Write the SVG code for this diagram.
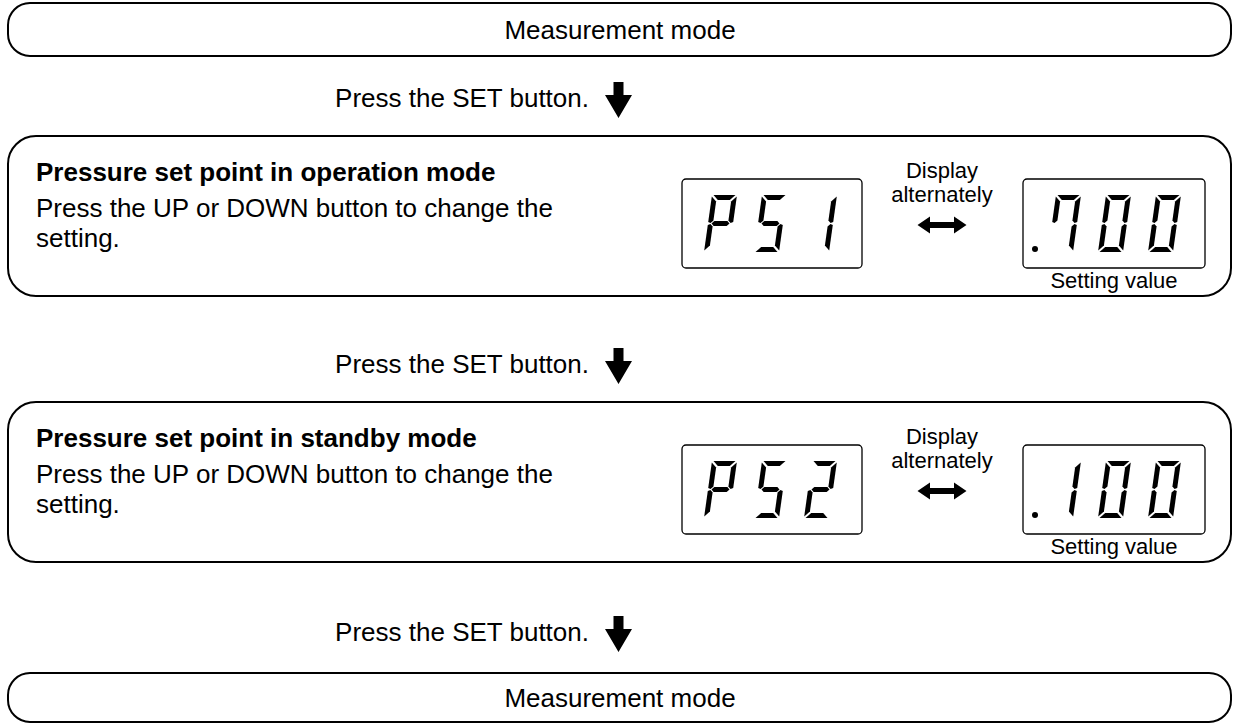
<svg xmlns="http://www.w3.org/2000/svg" xmlns:xlink="http://www.w3.org/1999/xlink" width="1234" height="724" viewBox="0 0 1234 724">
<style>
.box{fill:#fff;stroke:#000;stroke-width:2}
.disp{fill:#fff;stroke:#000;stroke-width:1.3}
.t{font-family:"Liberation Sans",Arial,sans-serif;font-size:26px;fill:#000}
.b{font-weight:bold}
.s{font-family:"Liberation Sans",Arial,sans-serif;font-size:22px;fill:#000}
.m{text-anchor:middle}
.e{text-anchor:end}
.seg{fill:#000}
</style>
<defs>
<polygon id="sa" class="seg" points="1.5,0 23.5,0 18.5,5 6.5,5"/>
<polygon id="sb" class="seg" points="25,1.5 25,27 22.5,28 20,25.5 20,6.5"/>
<polygon id="sc" class="seg" points="25,30 25,55.5 20,50.5 20,31.5 22.5,29"/>
<polygon id="sd" class="seg" points="1.5,57 23.5,57 18.5,52 6.5,52"/>
<polygon id="se" class="seg" points="0,30 2.5,29 5,31.5 5,50.5 0,55.5"/>
<polygon id="sf" class="seg" points="0,1.5 5,6.5 5,25.5 2.5,28 0,27"/>
<polygon id="sg" class="seg" points="3.5,28.5 6,26 19,26 21.5,28.5 19,31 6,31"/>
<path id="down" d="M-5,0 H5 V13 H13.5 L0,36 L-13.5,13 H-5 Z" fill="#000"/>
<path id="dbl" d="M-24.5,0 L-12,-8.5 V-3 H12 V-8.5 L24.5,0 L12,8.5 V3 H-12 V8.5 Z" fill="#000"/>
</defs>

<g id="measure-top">
<rect class="box" x="8" y="3" width="1223" height="53" rx="22"/>
<text class="t m" x="620" y="39">Measurement mode</text>
</g>

<g id="connectors">
<g id="step1">
<text class="t e" x="589" y="107">Press the SET button.</text>
<use xlink:href="#down" x="618.5" y="82"/>
</g>
<g id="step2">
<text class="t e" x="589" y="373">Press the SET button.</text>
<use xlink:href="#down" x="618.5" y="348"/>
</g>
<g id="step3">
<text class="t e" x="589" y="641">Press the SET button.</text>
<use xlink:href="#down" x="618.5" y="616"/>
</g>
</g>

<g id="operation">
<rect class="box" x="8" y="136" width="1223" height="160" rx="28"/>
<text class="t b" x="36" y="181">Pressure set point in operation mode</text>
<text class="t" x="36" y="217">Press the UP or DOWN button to change the</text>
<text class="t" x="36" y="247">setting.</text>
<rect class="disp" x="682" y="179" width="180" height="89" rx="4"/>
<g transform="translate(704,252) skewX(-8) translate(0,-57)">
<use xlink:href="#sa"/><use xlink:href="#sb"/><use xlink:href="#se"/><use xlink:href="#sf"/><use xlink:href="#sg"/>
</g>
<g transform="translate(754,252) skewX(-8) translate(0,-57)">
<use xlink:href="#sa"/><use xlink:href="#sf"/><use xlink:href="#sg"/><use xlink:href="#sc"/><use xlink:href="#sd"/>
</g>
<g transform="translate(804,252) skewX(-8) translate(0,-57)">
<use xlink:href="#sb"/><use xlink:href="#sc"/>
</g>
<text class="s m" x="942" y="178">Display</text>
<text class="s m" x="942" y="202">alternately</text>
<use xlink:href="#dbl" x="942" y="225"/>
<rect class="disp" x="1023" y="179" width="182" height="89" rx="4"/>
<circle cx="1035" cy="249" r="3"/>
<g transform="translate(1048,252) skewX(-8) translate(0,-57)">
<use xlink:href="#sa"/><use xlink:href="#sf"/><use xlink:href="#sb"/><use xlink:href="#sc"/>
</g>
<g transform="translate(1098,252) skewX(-8) translate(0,-57)">
<use xlink:href="#sa"/><use xlink:href="#sb"/><use xlink:href="#sc"/><use xlink:href="#sd"/><use xlink:href="#se"/><use xlink:href="#sf"/>
</g>
<g transform="translate(1148,252) skewX(-8) translate(0,-57)">
<use xlink:href="#sa"/><use xlink:href="#sb"/><use xlink:href="#sc"/><use xlink:href="#sd"/><use xlink:href="#se"/><use xlink:href="#sf"/>
</g>
<text class="s m" x="1114" y="288">Setting value</text>
</g>

<g id="standby">
<rect class="box" x="8" y="402" width="1223" height="160" rx="28"/>
<text class="t b" x="36" y="447">Pressure set point in standby mode</text>
<text class="t" x="36" y="483">Press the UP or DOWN button to change the</text>
<text class="t" x="36" y="513">setting.</text>
<rect class="disp" x="682" y="445" width="180" height="89" rx="4"/>
<g transform="translate(704,518) skewX(-8) translate(0,-57)">
<use xlink:href="#sa"/><use xlink:href="#sb"/><use xlink:href="#se"/><use xlink:href="#sf"/><use xlink:href="#sg"/>
</g>
<g transform="translate(754,518) skewX(-8) translate(0,-57)">
<use xlink:href="#sa"/><use xlink:href="#sf"/><use xlink:href="#sg"/><use xlink:href="#sc"/><use xlink:href="#sd"/>
</g>
<g transform="translate(804,518) skewX(-8) translate(0,-57)">
<use xlink:href="#sa"/><use xlink:href="#sb"/><use xlink:href="#sg"/><use xlink:href="#se"/><use xlink:href="#sd"/>
</g>
<text class="s m" x="942" y="444">Display</text>
<text class="s m" x="942" y="468">alternately</text>
<use xlink:href="#dbl" x="942" y="491"/>
<rect class="disp" x="1023" y="445" width="182" height="89" rx="4"/>
<circle cx="1035" cy="515" r="3"/>
<g transform="translate(1048,518) skewX(-8) translate(0,-57)">
<use xlink:href="#sb"/><use xlink:href="#sc"/>
</g>
<g transform="translate(1098,518) skewX(-8) translate(0,-57)">
<use xlink:href="#sa"/><use xlink:href="#sb"/><use xlink:href="#sc"/><use xlink:href="#sd"/><use xlink:href="#se"/><use xlink:href="#sf"/>
</g>
<g transform="translate(1148,518) skewX(-8) translate(0,-57)">
<use xlink:href="#sa"/><use xlink:href="#sb"/><use xlink:href="#sc"/><use xlink:href="#sd"/><use xlink:href="#se"/><use xlink:href="#sf"/>
</g>
<text class="s m" x="1114" y="554">Setting value</text>
</g>

<g id="measure-bottom">
<rect class="box" x="8" y="673" width="1223" height="49" rx="22"/>
<text class="t m" x="620" y="707">Measurement mode</text>
</g>
</svg>
